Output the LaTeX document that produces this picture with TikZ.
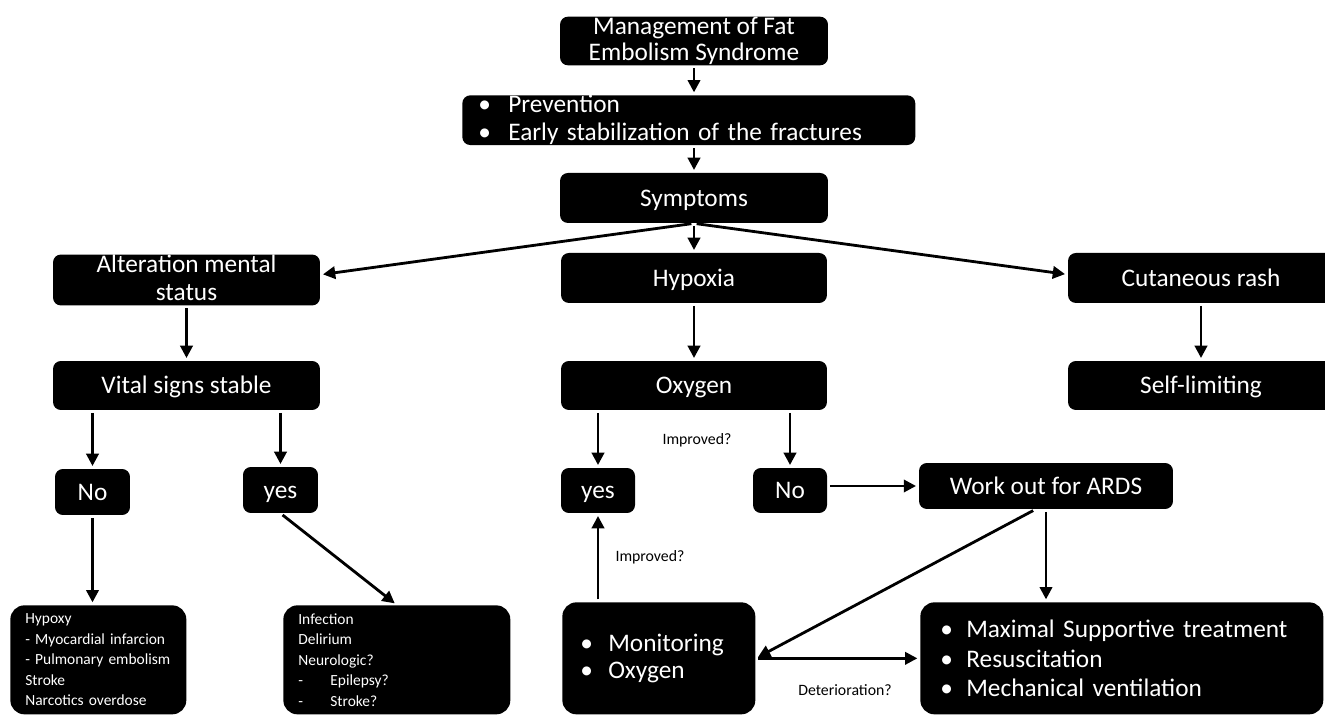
\documentclass[tikz,border=0pt]{standalone}
\usepackage{fontspec}
\setmainfont{Carlito}
\usetikzlibrary{arrows.meta}
\newcommand\boxtopstrut{\rule{0pt}{12.5pt}}
\newcommand\boxbotstrut{\rule[-3pt]{0pt}{3pt}}

\begin{document}
\begin{tikzpicture}[x=0.02cm,y=-0.02cm,>={Triangle[length=7pt,width=7pt]},
    box/.style={fill=black,text=white,rounded corners=4.5pt,inner sep=0pt,align=center,
      font=\fontsize{14.4}{15.5}\selectfont,execute at begin node=\boxtopstrut,execute at end node=\boxbotstrut},
    listbox/.style={fill=black,text=white,rounded corners=8pt,inner ysep=0pt,align=left,
      anchor=north west},
    arr/.style={->,line width=1.6pt,shorten <=1.5pt,shorten >=1.5pt},
    lbl/.style={inner sep=0pt,font=\fontsize{9}{11}\selectfont}]
  \useasboundingbox (0,0) rectangle (1325,715);

  % top of the chart
  \node[box,minimum width=5.36cm,minimum height=0.96cm,font=\fontsize{14.4}{14.8}\selectfont] (mgmt) at (694,41) {Management of Fat\\Embolism Syndrome};
  \node[listbox,rounded corners=4.5pt,inner xsep=0.32cm,text width=8.42cm,minimum height=0.98cm,
    font=\fontsize{14.4}{16}\selectfont] (prev) at (462,95)
    {\makebox[0.6cm][l]{\textbullet}Prevention\\\makebox[0.6cm][l]{\textbullet}Early stabilization of the fractures};
  \node[box,minimum width=5.36cm,minimum height=1cm] (sympt) at (694,198) {Symptoms};

  % three symptoms
  \node[box,minimum width=5.34cm,minimum height=1cm,font=\fontsize{14.4}{16}\selectfont] (alter) at (186.5,280) {Alteration mental\\status};
  \node[box,minimum width=5.32cm,minimum height=1cm] (hypox) at (694,278) {Hypoxia};
  \node[box,minimum width=5.32cm,minimum height=1cm] (rash) at (1201,278) {Cutaneous rash};

  \node[box,minimum width=5.34cm,minimum height=0.98cm] (vital) at (186.5,385.5) {Vital signs stable};
  \node[box,minimum width=5.32cm,minimum height=0.98cm] (oxy) at (694,385.5) {Oxygen};
  \node[box,minimum width=5.32cm,minimum height=0.98cm] (self) at (1201,385.5) {Self-limiting};

  % answers
  \node[box,minimum width=1.5cm,minimum height=0.92cm] (noL) at (92.5,492) {No};
  \node[box,minimum width=1.5cm,minimum height=0.92cm] (yesL) at (280.5,490) {yes};
  \node[box,minimum width=1.48cm,minimum height=0.9cm] (yesM) at (598,490.5) {yes};
  \node[box,minimum width=1.48cm,minimum height=0.9cm] (noM) at (790,490.5) {No};
  \node[box,minimum width=5.08cm,minimum height=0.92cm] (ards) at (1046,486) {Work out for ARDS};

  % bottom row
  \node[listbox,inner xsep=0.3cm,text width=2.92cm,minimum height=2.18cm,
    font=\fontsize{8.8}{11.7}\selectfont] (hypoxy) at (10,605)
    {Hypoxy\\- Myocardial infarcion\\- Pulmonary embolism\\Stroke\\Narcotics overdose};
  \node[listbox,inner xsep=0.3cm,text width=3.94cm,minimum height=2.18cm,
    font=\fontsize{8.8}{11.7}\selectfont] (infect) at (283,605)
    {Infection\\Delirium\\Neurologic?\\\makebox[0.64cm][l]{-}Epilepsy?\\\makebox[0.64cm][l]{-}Stroke?};
  \node[listbox,inner xsep=0.36cm,text width=3.14cm,minimum height=2.24cm,
    font=\fontsize{14.4}{15.5}\selectfont] (monit) at (562,602)
    {\makebox[0.56cm][l]{\textbullet}Monitoring\\\makebox[0.56cm][l]{\textbullet}Oxygen};
  \node[listbox,inner xsep=0.4cm,text width=7.26cm,minimum height=2.24cm,
    font=\fontsize{14.4}{17}\selectfont] (maxim) at (920,602)
    {\makebox[0.52cm][l]{\textbullet}Maximal Supportive treatment\\\makebox[0.52cm][l]{\textbullet}Resuscitation\\\makebox[0.52cm][l]{\textbullet}Mechanical ventilation};

  % labels
  \node[lbl] (impr1) at (697,440) {Improved?};
  \node[lbl] (impr2) at (650,557) {Improved?};
  \node[lbl] (deter) at (845,690) {Deterioration?};

  % arrows
  \draw[arr] (mgmt.south) -- (mgmt.south |- prev.north);
  \draw[arr] (sympt.north |- prev.south) -- (sympt.north);
  \draw[arr] (sympt.south) -- (hypox.north);
  \draw[arr] (sympt.south) -- ([yshift=3pt]alter.east);
  \draw[arr] (sympt.south) -- ([yshift=2pt]rash.west);
  \draw[arr] (alter) -- (vital);
  \draw[arr] (hypox) -- (oxy);
  \draw[arr] (rash) -- (self);
  \draw[arr] (noL.north |- vital.south) -- (noL.north);
  \draw[arr] (yesL.north |- vital.south) -- (yesL.north);
  \draw[arr] (yesM.north |- oxy.south) -- (yesM.north);
  \draw[arr] (noM.north |- oxy.south) -- (noM.north);
  \draw[arr] (ards.west -| noM.east) -- (ards.west);
  \draw[arr] (noL) -- (noL |- hypoxy.north);
  \draw[arr] (yesL.south) -- (infect.north);
  \draw[arr] (yesM.south |- monit.north) -- (yesM.south);
  \draw[arr] (ards.south) -- (ards.south |- maxim.north);
  \draw[arr] ([xshift=-6pt]ards.south) -- (monit.east);
  \draw[arr] (monit.east) -- (maxim.west);
\end{tikzpicture}
\end{document}
